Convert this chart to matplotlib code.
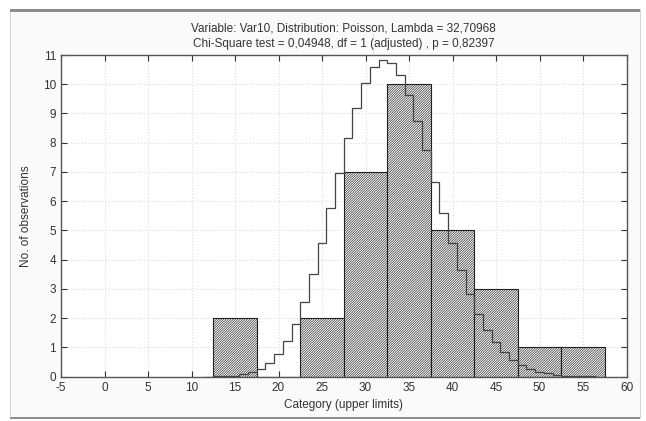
import matplotlib
matplotlib.use('Agg')
import matplotlib.pyplot as plt
from matplotlib.patches import Rectangle

plt.rcParams['font.family'] = ['Liberation Sans', 'DejaVu Sans']
plt.rcParams['axes.unicode_minus'] = False
plt.rcParams['hatch.linewidth'] = 0.45
plt.rcParams['hatch.color'] = '#505050'

# observed counts per category (bars centred on the upper-limit value)
categories = [15, 20, 25, 30, 35, 40, 45, 50, 55]
counts = [2, 0, 2, 7, 10, 5, 3, 1, 1]

# expected (Poisson) curve, one step per integer value
exp_x = list(range(12, 57))
exp_y = [0.0, 0.01, 0.02, 0.04, 0.08, 0.15, 0.28, 0.48, 0.78, 1.22,
         1.81, 2.57, 3.50, 4.58, 5.76, 6.98, 8.16, 9.20, 10.03, 10.58,
         10.82, 10.72, 10.32, 9.64, 8.76, 7.75, 6.67, 5.59, 4.57, 3.65,
         2.84, 2.16, 1.61, 1.17, 0.83, 0.58, 0.39, 0.26, 0.17, 0.11,
         0.07, 0.04, 0.03, 0.02, 0.01]

title = ('Variable: Var10, Distribution: Poisson, Lambda = 32,70968\n'
         'Chi-Square test = 0,04948, df = 1 (adjusted) , p = 0,82397')

fig = plt.figure(figsize=(6.46, 4.21), dpi=100)
fig.patch.set_facecolor('white')

# panel frame like the original window
fig.patches.append(Rectangle((10 / 646, 3 / 421), 630 / 646, 409 / 421,
                             transform=fig.transFigure, facecolor='#fafafa',
                             edgecolor='#d8d8d8', linewidth=0.8, zorder=-5))
fig.patches.append(Rectangle((10 / 646, 409 / 421), 630 / 646, 3 / 421,
                             transform=fig.transFigure, facecolor='#8c8c8c',
                             edgecolor='none', zorder=-4))
fig.patches.append(Rectangle((10 / 646, 2 / 421), 630 / 646, 2 / 421,
                             transform=fig.transFigure, facecolor='#8c8c8c',
                             edgecolor='none', zorder=-4))

ax = fig.add_axes([61 / 646, 1 - 376.7 / 421, 565.5 / 646, 321.7 / 421])
ax.set_facecolor('white')

ax.bar(categories, counts, width=5, facecolor='white', edgecolor='#202020',
       hatch='/' * 14, linewidth=0.8, zorder=2)

ax.stairs(exp_y, [x - 0.5 for x in exp_x] + [exp_x[-1] + 0.5],
          color='#444444', linewidth=0.9, baseline=None, zorder=3)

ax.set_xlim(-5, 60)
ax.set_ylim(0, 11)
ax.set_xticks(range(-5, 61, 5))
ax.set_yticks(range(0, 12))
ax.grid(True, color='#dcdcdc', linestyle=':', linewidth=0.8, zorder=0)
ax.set_axisbelow(True)
ax.tick_params(direction='in', top=True, right=True, length=4,
               labelsize=8.5, colors='#333333', width=0.8)
for s in ax.spines.values():
    s.set_color('#555555')
    s.set_linewidth(1.0)

ax.set_xlabel('Category (upper limits)', fontsize=8.5, color='#333333', labelpad=4)
ax.set_ylabel('No. of observations', fontsize=8.5, color='#333333', labelpad=8)
ax.set_title(title, fontsize=8.5, color='#333333', linespacing=1.4, pad=6)

plt.savefig('out.png', dpi=100)
plt.close()
